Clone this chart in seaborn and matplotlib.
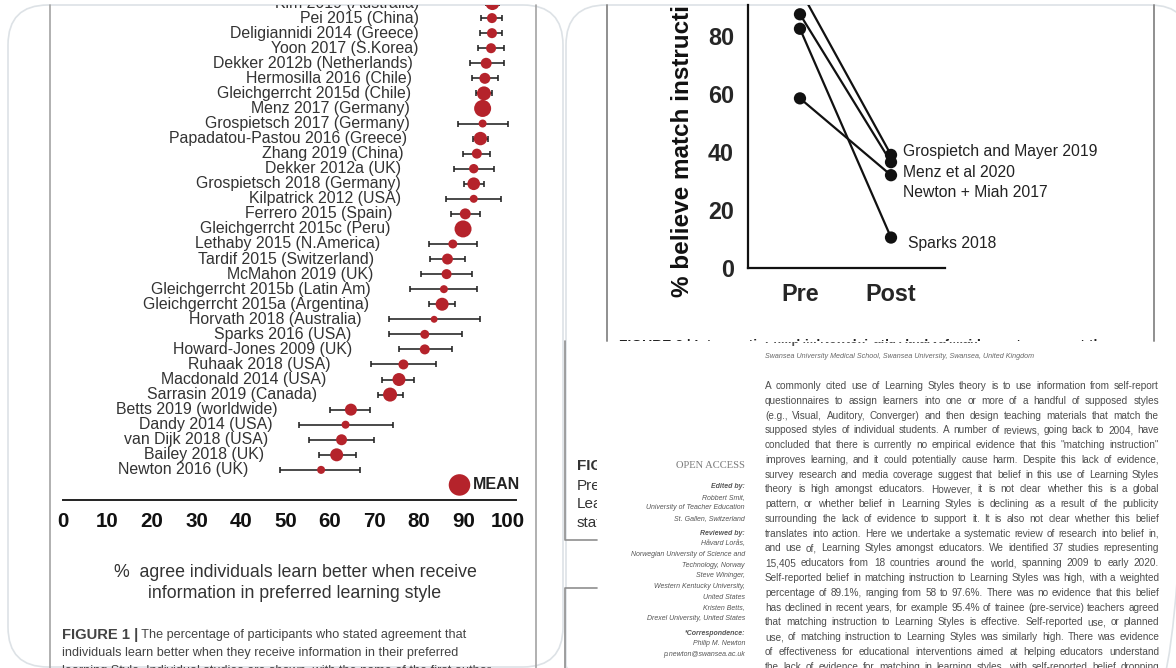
import matplotlib
matplotlib.use("Agg")
import matplotlib.pyplot as plt
import seaborn as sns
import pandas as pd
from matplotlib.patches import FancyBboxPatch, Rectangle

# ---------------- Figure 1: % agreeing with "learning styles" per study
studies = [
    "Kim 2019 (Australia)", "Pei 2015 (China)", "Deligiannidi 2014 (Greece)",
    "Yoon 2017 (S.Korea)", "Dekker 2012b (Netherlands)", "Hermosilla 2016 (Chile)",
    "Gleichgerrcht 2015d (Chile)", "Menz 2017 (Germany)", "Grospietsch 2017 (Germany)",
    "Papadatou-Pastou 2016 (Greece)", "Zhang 2019 (China)", "Dekker 2012a (UK)",
    "Grospietsch 2018 (Germany)", "Kilpatrick 2012 (USA)", "Ferrero 2015 (Spain)",
    "Gleichgerrcht 2015c (Peru)", "Lethaby 2015 (N.America)", "Tardif 2015 (Switzerland)",
    "McMahon 2019 (UK)", "Gleichgerrcht 2015b (Latin Am)", "Gleichgerrcht 2015a (Argentina)",
    "Horvath 2018 (Australia)", "Sparks 2016 (USA)", "Howard-Jones 2009 (UK)",
    "Ruhaak 2018 (USA)", "Macdonald 2014 (USA)", "Sarrasin 2019 (Canada)",
    "Betts 2019 (worldwide)", "Dandy 2014 (USA)", "van Dijk 2018 (USA)",
    "Bailey 2018 (UK)", "Newton 2016 (UK)",
]
pct = [96.5, 96.4, 96.4, 96.2, 95.1, 94.8, 94.6, 94.3, 94.3, 93.8, 93.0, 92.3,
       92.3, 92.3, 90.4, 89.9, 87.6, 86.4, 86.2, 85.6, 85.2, 83.4, 81.3, 81.3,
       76.5, 75.5, 73.5, 64.7, 63.5, 62.6, 61.5, 58.0]
ci_low = [95.0, 93.9, 93.8, 93.2, 91.5, 92.0, 92.8, 93.4, 88.7, 92.2, 89.9, 87.9,
          90.2, 86.0, 87.1, 89.0, 82.2, 82.4, 80.4, 78.0, 82.2, 73.3, 73.3, 75.4,
          69.3, 71.7, 70.7, 60.1, 53.1, 55.3, 57.5, 48.7]
ci_high = [98.0, 98.6, 98.6, 99.0, 99.2, 97.8, 96.4, 95.2, 100.0, 95.4, 96.0, 96.8,
           94.6, 98.4, 93.8, 90.8, 93.1, 90.4, 91.9, 93.1, 88.2, 93.6, 89.6, 87.4,
           83.8, 78.9, 76.3, 69.1, 74.1, 69.9, 65.9, 66.7]
weight = [49, 25, 25, 25, 30, 30, 49, 72, 16, 45, 25, 22, 40, 16, 30, 72, 20, 30,
          25, 16, 42, 12, 20, 25, 25, 42, 49, 36, 16, 30, 42, 16]
mean_pct = 89.1

# ---------------- Figure 2: belief before / after an intervention
slope_studies = ["Grospietch and Mayer 2019", "Menz et al 2020",
                 "Newton + Miah 2017", "Sparks 2018"]
pre_pct = [96.0, 87.5, 58.5, 82.5]
post_pct = [39.0, 36.5, 32.0, 10.5]
phases = ["Pre", "Post"]

abstract = [
    "A commonly cited use of Learning Styles theory is to use information from self-report",
    "questionnaires to assign learners into one or more of a handful of supposed styles",
    "(e.g., Visual, Auditory, Converger) and then design teaching materials that match the",
    "supposed styles of individual students. A number of reviews, going back to 2004, have",
    "concluded that there is currently no empirical evidence that this \"matching instruction\"",
    "improves learning, and it could potentially cause harm. Despite this lack of evidence,",
    "survey research and media coverage suggest that belief in this use of Learning Styles",
    "theory is high amongst educators. However, it is not clear whether this is a global",
    "pattern, or whether belief in Learning Styles is declining as a result of the publicity",
    "surrounding the lack of evidence to support it. It is also not clear whether this belief",
    "translates into action. Here we undertake a systematic review of research into belief in,",
    "and use of, Learning Styles amongst educators. We identified 37 studies representing",
    "15,405 educators from 18 countries around the world, spanning 2009 to early 2020.",
    "Self-reported belief in matching instruction to Learning Styles was high, with a weighted",
    "percentage of 89.1%, ranging from 58 to 97.6%. There was no evidence that this belief",
    "has declined in recent years, for example 95.4% of trainee (pre-service) teachers agreed",
    "that matching instruction to Learning Styles is effective. Self-reported use, or planned",
    "use, of matching instruction to Learning Styles was similarly high. There was evidence",
    "of effectiveness for educational interventions aimed at helping educators understand",
    "the lack of evidence for matching in learning styles, with self-reported belief dropping",
]
sidebar = [
    ("Edited by:", "bold"), ("Robbert Smit,", "normal"),
    ("University of Teacher Education", "normal"), ("St. Gallen, Switzerland", "normal"),
    ("Reviewed by:", "bold"), ("Håvard Lorås,", "normal"),
    ("Norwegian University of Science and", "normal"), ("Technology, Norway", "normal"),
    ("Steve Wininger,", "normal"), ("Western Kentucky University,", "normal"),
    ("United States", "normal"), ("Kristen Betts,", "normal"),
    ("Drexel University, United States", "normal"),
    ("*Correspondence:", "bold"), ("Philip M. Newton", "normal"),
    ("p.newton@swansea.ac.uk", "normal"),
]

sns.set_style("white")
plt.rcParams["font.family"] = ["Liberation Sans", "DejaVu Sans"]

RED = "#b5232b"
W, H = 1176, 668
fig = plt.figure(figsize=(W / 100, H / 100), dpi=100)
fig.patch.set_facecolor("white")
renderer = fig.canvas.get_renderer()


def box(x0, y0, x1, y1):
    return [x0 / W, 1 - y1 / H, (x1 - x0) / W, (y1 - y0) / H]


# background layer in pixel coordinates (cards, frames, page text)
bg = fig.add_axes([0, 0, 1, 1])
bg.set_xlim(0, W)
bg.set_ylim(H, 0)
bg.axis("off")


def clipped(x, y, s, rect, **kw):
    t = bg.text(x, y, s, clip_on=True, **kw)
    t.set_clip_path(Rectangle(rect[:2], rect[2], rect[3], transform=bg.transData))
    return t


card = dict(boxstyle="round,pad=0,rounding_size=40", fc="none", ec="#dde2e6", lw=1.2)
bg.add_patch(FancyBboxPatch((8, 5), 555, 662, **card))
bg.add_patch(FancyBboxPatch((566, 5), 624, 700, **card))
for x in (50, 536):
    bg.plot([x, x], [5, 668], color="#a3a3a3", lw=1.2)
for x in (607, 1154):
    bg.plot([x, x], [5, 341], color="#8f8f8f", lw=1.4)
bg.plot([565, 565, 597], [341, 540, 540], color="#8f8f8f", lw=1.2)
bg.plot([597, 565, 565], [588, 588, 668], color="#8f8f8f", lw=1.2)

# ---------------- forest plot
forest = pd.DataFrame({"study": studies, "pct": pct, "lo": ci_low,
                       "hi": ci_high, "weight": weight})
forest["row"] = range(len(forest))

ax1 = fig.add_axes(box(63, 5, 516, 500))
ax1.patch.set_alpha(0)
ax1.errorbar(forest["pct"], forest["row"],
             xerr=[forest["pct"] - forest["lo"], forest["hi"] - forest["pct"]],
             fmt="none", ecolor="#222222", elinewidth=1.15, capsize=2.4, capthick=1.15)
sns.scatterplot(data=forest, x="pct", y="row", size="weight", sizes=(25, 150),
                size_norm=(12, 72), color=RED, edgecolor="none", legend=False,
                ax=ax1, zorder=3)
sns.scatterplot(x=[mean_pct], y=[len(forest)], s=240, color=RED, edgecolor="none",
                ax=ax1, zorder=3)
for r in forest.itertuples():
    ax1.text(r.pct - 16.4, r.row, r.study, ha="right", va="center", fontsize=11.4,
             color="#333333", clip_on=True)
ax1.text(mean_pct + 3.0, len(forest), "MEAN", ha="left", va="center",
         fontsize=11.5, fontweight="bold", color="#222222")
ax1.set_xlim(0, 101.8)
ax1.set_ylim(33.0, 0.13)
ax1.set_xticks(range(0, 101, 10))
ax1.set_yticks([])
ax1.set_xlabel("")
ax1.set_ylabel("")
for s in ("top", "right", "left"):
    ax1.spines[s].set_visible(False)
ax1.spines["bottom"].set_linewidth(1.4)
ax1.spines["bottom"].set_color("#222222")
ax1.tick_params(axis="x", direction="out", length=3.8, width=1.4, color="#222222",
                pad=5, labelsize=14.8, labelcolor="#111111")
for t in ax1.get_xticklabels():
    t.set_fontweight("bold")

bg.text(295, 583, "%  agree individuals learn better when receive\ninformation in preferred learning style",
        ha="center", va="center", fontsize=12.8, color="#333333", linespacing=1.25)


def runs(x, y, parts, **kw):
    for s, wt, size in parts:
        t = bg.text(x, y, s, fontweight=wt, fontsize=size, **kw)
        x += t.get_window_extent(renderer).width


cap = dict(color="#444444", va="center", ha="left")
runs(62, 635, [("FIGURE 1 |", "bold", 10.6),
               (" The percentage of participants who stated agreement that", "normal", 9.1)],
     **cap)
bg.text(62, 653, "individuals learn better when they receive information in their preferred",
        fontsize=9.1, **cap)
bg.text(62, 671, "learning Style. Individual studies are shown, with the name of the first author",
        fontsize=9.1, **cap)

# ---------------- pre / post plot
slope = pd.DataFrame({"study": slope_studies * 2,
                      "phase": [phases[0]] * 4 + [phases[1]] * 4,
                      "pct": pre_pct + post_pct})
ax2 = fig.add_axes(box(748, 5, 945, 268))
ax2.patch.set_alpha(0)
sns.lineplot(data=slope, x="phase", y="pct", units="study", estimator=None,
             color="#111111", lw=1.6, sort=False, ax=ax2)
sns.scatterplot(data=slope, x="phase", y="pct", color="#111111", s=78,
                edgecolor="none", ax=ax2, zorder=3, clip_on=False)
ax2.set_xlim(-0.571, 1.593)
ax2.set_ylim(0, 90.7)
ax2.set_yticks(range(0, 81, 20))
ax2.set_xlabel("")
ax2.set_ylabel("")
for s in ("top", "right"):
    ax2.spines[s].set_visible(False)
for s in ("left", "bottom"):
    ax2.spines[s].set_linewidth(1.6)
    ax2.spines[s].set_color("#111111")
ax2.tick_params(axis="y", direction="out", length=5.8, width=1.6, pad=4.3,
                labelsize=16.8, color="#111111")
ax2.tick_params(axis="x", direction="out", length=8, width=1.6, pad=3,
                labelsize=16.8, color="#111111")
for t in ax2.get_xticklabels() + ax2.get_yticklabels():
    t.set_fontweight("bold")

label_y = [40.3, 33.1, 26.2, 8.6]
label_dx = [0.13, 0.13, 0.13, 0.19]
for name, y, dx in zip(slope_studies, label_y, label_dx):
    ax2.text(1 + dx, y, name, ha="left", va="center", fontsize=11.3,
             color="#222222", clip_on=False)

clipped(683, 297, "% believe match instruction to learning style", (0, 5, W, H),
        rotation=90, ha="center", va="bottom", fontsize=17.5, fontweight="bold",
        color="#111111")
clipped(619, 346, "FIGURE 2 | Interventions which explain the lack of evidence to support the",
        (566, 5, 600, 336), ha="left", va="center", fontsize=10, fontweight="bold",
        color="#222222")

# ---------------- overlapping article page
clipped(765, 340.5, "Philip M. Newton* and Atharva Miah", (700, 342, 400, 20),
        ha="left", va="center", fontsize=9, fontweight="bold", color="#555555")
bg.text(765, 357, "Swansea University Medical School, Swansea University, Swansea, United Kingdom",
        ha="left", va="center", fontsize=5.1, style="italic", color="#666666")

x0, x1 = 765, 1159
for k, line in enumerate(abstract):
    y = 386 + 14.77 * k
    words = line.split()
    texts = [bg.text(0, y, w, ha="left", va="center", fontsize=7.2, color="#4d4d4d")
             for w in words]
    widths = [t.get_window_extent(renderer).width for t in texts]
    gap = (x1 - x0 - sum(widths)) / (len(words) - 1)
    x = x0
    for t, w in zip(texts, widths):
        t.set_x(x)
        x += w + gap

bg.text(745, 466, "OPEN ACCESS", ha="right", va="center", fontsize=7.6,
        family="Liberation Serif", color="#7a7a7a")
y = 486.7
for i, (line, wt) in enumerate(sidebar):
    if wt == "bold" and i > 0:
        y += 4
    bg.text(745, y, line, ha="right", va="center", fontsize=5.0, style="italic",
            fontweight=wt, color="#555555")
    y += 10.65

for txt, yy, wt in [("FIGURE 2 |", 466, "bold"), ("Pre-post", 486, "normal"),
                    ("Learning", 504, "normal"), ("stated", 523, "normal")]:
    clipped(577, yy, txt, (560, 341, 37, 200), ha="left", va="center", fontsize=11,
            fontweight=wt, color="#333333")

fig.savefig("out.png", dpi=100, facecolor="white")
